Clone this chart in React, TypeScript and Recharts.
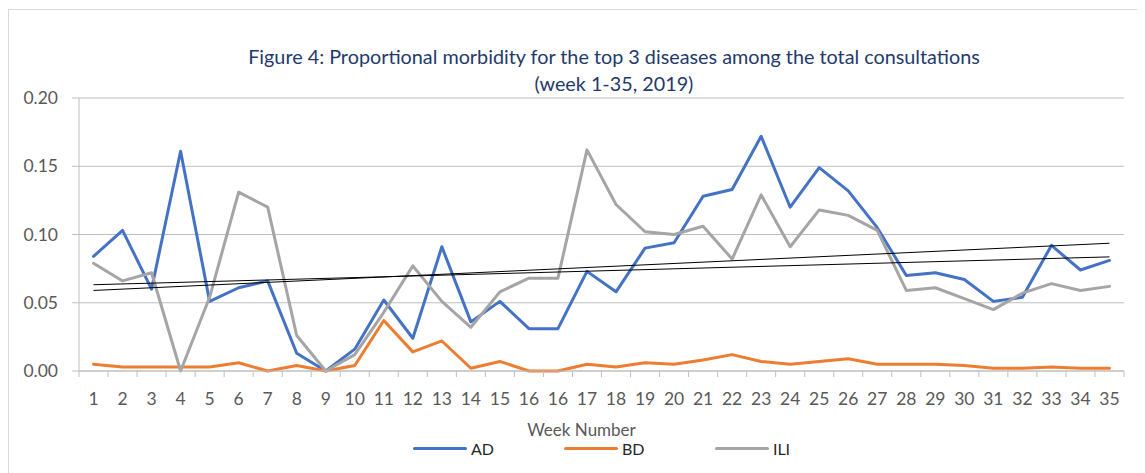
import React from "react";
import {
  LineChart,
  Line,
  XAxis,
  YAxis,
  CartesianGrid,
  Legend,
  ReferenceLine,
} from "recharts";

const weeks = [
  "1", "2", "3", "4", "5", "6", "7", "8", "9", "10", "11", "12", "13", "14", "15", "16",
  "16", "17", "18", "19", "20", "21", "22", "23", "24", "25", "26", "27", "28", "29", "30",
  "31", "32", "33", "34", "35",
];

const AD = [
  0.084, 0.103, 0.06, 0.161, 0.051, 0.061, 0.066, 0.013, 0.0, 0.016, 0.052, 0.024, 0.091,
  0.036, 0.051, 0.031, 0.031, 0.073, 0.058, 0.09, 0.094, 0.128, 0.133, 0.172, 0.12, 0.149,
  0.132, 0.105, 0.07, 0.072, 0.067, 0.051, 0.054, 0.092, 0.074, 0.081,
];

const BD = [
  0.005, 0.003, 0.003, 0.003, 0.003, 0.006, 0.0, 0.004, 0.0, 0.004, 0.037, 0.014, 0.022,
  0.002, 0.007, 0.0, 0.0, 0.005, 0.003, 0.006, 0.005, 0.008, 0.012, 0.007, 0.005, 0.007,
  0.009, 0.005, 0.005, 0.005, 0.004, 0.002, 0.002, 0.003, 0.002, 0.002,
];

const ILI = [
  0.079, 0.066, 0.072, 0.0, 0.054, 0.131, 0.12, 0.026, 0.0, 0.012, 0.043, 0.077, 0.051,
  0.032, 0.058, 0.068, 0.068, 0.162, 0.122, 0.102, 0.1, 0.106, 0.082, 0.129, 0.091, 0.118,
  0.114, 0.103, 0.059, 0.061, 0.053, 0.045, 0.057, 0.064, 0.059, 0.062,
];

// linear trend lines (start value at first week, end value at last week)
const TREND_AD = [0.059, 0.0936];
const TREND_ILI = [0.0632, 0.0836];

const yTicks = [0, 0.05, 0.1, 0.15, 0.2];
const boundaryTicks = weeks.map((_, i) => i).concat([weeks.length]);

const seriesMeta = [
  { key: "AD", color: "#4472C4" },
  { key: "BD", color: "#ED7D31" },
  { key: "ILI", color: "#A5A5A5" },
];

const data = weeks.map((w, i) => ({
  week: w,
  idx: i + 0.5,
  AD: AD[i],
  BD: BD[i],
  ILI: ILI[i],
}));

const FONT = "Lato, 'Open Sans', sans-serif";
const W = 1137;
const H = 465;
const MARGIN = { top: 90, right: 21, left: 0, bottom: 27 };
const Y_W = 71;
const PLOT_W = W - Y_W - MARGIN.left - MARGIN.right;
const HALF_CAT = PLOT_W / (2 * weeks.length);

const LegendContent = () => (
  <div
    style={{
      display: "flex",
      justifyContent: "center",
      width: W,
      boxSizing: "border-box",
      paddingLeft: 50,
      fontFamily: FONT,
      fontSize: 16,
      color: "#262626",
    }}
  >
    {seriesMeta.map((s, i) => (
      <div
        key={s.key}
        style={{
          display: "flex",
          alignItems: "center",
          width: i < seriesMeta.length - 1 ? 151 : "auto",
        }}
      >
        <div
          style={{
            width: 54,
            height: 3,
            borderRadius: 2,
            background: s.color,
            marginRight: 4,
          }}
        />
        <span>{s.key}</span>
      </div>
    ))}
  </div>
);

const EmptyTick = () => <g />;

export default function App() {
  return (
    <div style={{ position: "relative", width: W, height: H, background: "#fff" }}>
      <div
        style={{
          position: "absolute",
          left: 0,
          top: 1,
          width: W + 20,
          height: H + 20,
          borderTop: "1px solid #d9d9d9",
          borderLeft: "1px solid #d9d9d9",
          boxSizing: "border-box",
        }}
      />
      <div
        style={{
          position: "absolute",
          left: 106,
          top: 35,
          width: 1000,
          textAlign: "center",
          fontFamily: FONT,
          fontSize: 19.8,
          lineHeight: "27px",
          color: "#243A6B",
        }}
      >
        <div>Figure 4: Proportional morbidity for the top 3 diseases among the total consultations</div>
        <div>(week 1-35, 2019)</div>
      </div>
      <div style={{ position: "absolute", left: 0, top: 0 }}>
        <LineChart width={W} height={H} data={data} margin={MARGIN}>
          <CartesianGrid vertical={false} stroke="#bfbfbf" strokeWidth={1} xAxisId={0} />
          <XAxis
            xAxisId={0}
            type="number"
            dataKey="idx"
            domain={[0, weeks.length]}
            ticks={boundaryTicks}
            allowDataOverflow
            height={1}
            tick={<EmptyTick />}
            tickSize={6}
            axisLine={{ stroke: "#bfbfbf" }}
            tickLine={{ stroke: "#bfbfbf" }}
          />
          <XAxis
            xAxisId={1}
            dataKey="week"
            type="category"
            padding={{ left: HALF_CAT, right: HALF_CAT }}
            interval={0}
            height={74}
            tickLine={false}
            tickSize={6}
            tickMargin={15}
            axisLine={false}
            tick={{ fill: "#595959", fontSize: 17.5, fontFamily: FONT }}
            label={{
              value: "Week Number",
              position: "insideBottom",
              offset: 10,
              dx: -20,
              fill: "#595959",
              fontSize: 17,
              fontFamily: FONT,
            }}
          />
          <YAxis
            domain={[0, 0.2]}
            ticks={yTicks}
            width={Y_W}
            tickSize={7}
            tickMargin={14}
            tickFormatter={(v: number) => v.toFixed(2)}
            axisLine={{ stroke: "#bfbfbf" }}
            tickLine={{ stroke: "#bfbfbf" }}
            tick={{ fill: "#595959", fontSize: 17.5, fontFamily: FONT }}
          />
          {seriesMeta.map((s) => (
            <Line
              key={s.key}
              xAxisId={1}
              type="linear"
              dataKey={s.key}
              stroke={s.color}
              strokeWidth={3}
              dot={false}
              activeDot={false}
              strokeLinejoin="round"
              strokeLinecap="round"
              isAnimationActive={false}
            />
          ))}
          <ReferenceLine
            xAxisId={0}
            segment={[
              { x: 0.5, y: TREND_AD[0] },
              { x: weeks.length - 0.5, y: TREND_AD[1] },
            ]}
            stroke="#000"
            strokeWidth={1}
            ifOverflow="visible"
          />
          <ReferenceLine
            xAxisId={0}
            segment={[
              { x: 0.5, y: TREND_ILI[0] },
              { x: weeks.length - 0.5, y: TREND_ILI[1] },
            ]}
            stroke="#000"
            strokeWidth={1}
            ifOverflow="visible"
          />
          <Legend
            layout="horizontal"
            align="center"
            verticalAlign="middle"
            wrapperStyle={{ top: 431, left: 0, width: W }}
            content={<LegendContent />}
          />
        </LineChart>
      </div>
    </div>
  );
}
